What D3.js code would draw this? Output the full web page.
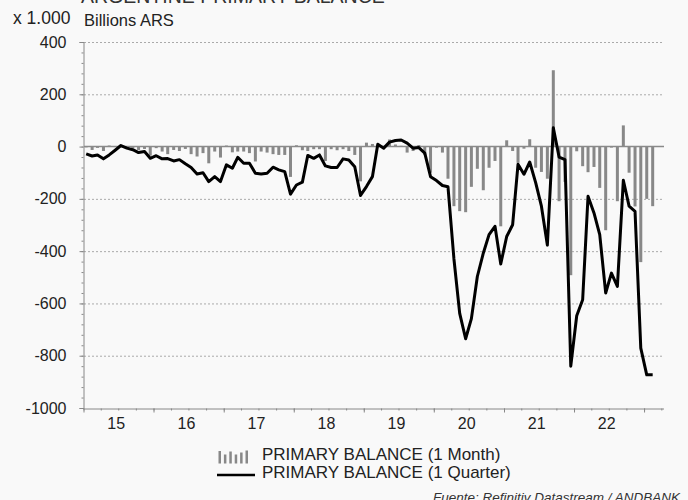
<html>
<head>
<style>
  body { margin: 0; background-color: #f9f9f9; font-family: "Liberation Sans", Arial, sans-serif; }
  svg { display: block; }
  .tick text { font-size: 16px; fill: #222; font-family: "Liberation Sans", Arial, sans-serif; }
</style>
<script src="https://d3js.org/d3.v7.min.js"></script>
</head>
<body>
<svg id="chart"></svg>
<script>
// monthly data, Jan 2015 .. Feb 2023 (billions ARS, x 1.000)
let startYear = 2015
let yearLabels = ["15", "16", "17", "18", "19", "20", "21", "22"]
let yTicks = [400, 200, 0, -200, -400, -600, -800, -1000]

let monthBalance = [
  -3, -13, -5, -17, 4, -2, -1, -9, -6, -13, -9, -35,
  -6, -19, -29, -13, -17, -9, -29, -38, -25, -64, -19, -42,
  4, -22, -19, -19, -25, -57, -19, -23, -29, -32, -32, -116,
  5, -14, -17, -10, -10, -55, -10, -14, -10, -17, -32, -133,
  15, 10, -3, 3, 27, 8, 3, -23, -17, 6, -32, -100,
  -4, -23, -123, -228, -247, -251, -154, -85, -167, -81, -55, -305,
  24, -17, -62, -8, 28, -81, -97, -123, 292, -209, -135, -492,
  -18, -75, -98, -78, -158, -320, -4, -209, 81, -100, -229, -442,
  -200, -228
]
let quarterBalance = [
  -28, -36, -32, -47, -32, -14, 4, -6, -12, -23, -19, -45,
  -35, -47, -46, -55, -50, -66, -80, -105, -100, -134, -115, -134,
  -70, -83, -41, -64, -64, -102, -105, -102, -79, -89, -96, -182,
  -147, -136, -34, -45, -32, -74, -80, -80, -47, -51, -77, -187,
  -153, -115, 9, -6, 17, 23, 25, 13, -6, -4, -25, -115,
  -130, -149, -154, -430, -638, -735, -658, -497, -408, -337, -305, -449,
  -344, -299, -68, -106, -59, -138, -228, -377, 72, -40, -50, -840,
  -647, -586, -190, -254, -337, -560, -484, -535, -129, -228, -248, -771,
  -873, -873
]

let months = monthBalance.map((d, i) => new Date(startYear, i, 15))
let rows = months.map((m, i) => ({date: m, month: monthBalance[i], quarter: quarterBalance[i]}))

let width = 688, height = 500
let svg = d3.select("#chart").attr("width", width).attr("height", height)
svg.append("rect").attr("width", width).attr("height", height).attr("fill", "#f9f9f9")

let x = d3.scaleTime()
  .domain([new Date(2015, 0, 1), new Date(2023, 3, 15)])
  .range([83.5, 664])
let y = d3.scaleLinear().domain([-1000, 400]).range([408, 42])

// title, cut off at the very top of the picture
svg.append("text").attr("x", 81).attr("y", 2.5)
  .style("font-size", "19.5px").style("fill", "#333")
  .text("ARGENTINE PRIMARY BALANCE")

svg.append("text").attr("x", 13).attr("y", 24)
  .style("font-size", "17.5px").style("fill", "#222").text("x 1.000")
svg.append("text").attr("x", 84).attr("y", 26)
  .style("font-size", "16.5px").style("fill", "#222").text("Billions ARS")

// grid
svg.append("g").selectAll("line").data(yTicks.filter(d => d != 0 && d != -1000))
  .enter().append("line")
  .attr("x1", 84).attr("x2", 664)
  .attr("y1", d => y(d) + 0.5).attr("y2", d => y(d) + 0.5)
  .attr("stroke", "#aaa").attr("stroke-dasharray", "2,2")

// bars
svg.append("g").selectAll("rect").data(rows).enter().append("rect")
  .attr("x", d => x(d.date) - 1.5)
  .attr("width", 3)
  .attr("y", d => Math.min(y(d.month), y(0)))
  .attr("height", d => Math.abs(y(d.month) - y(0)))
  .attr("fill", "#888")

// zero line
svg.append("line").attr("x1", 84).attr("x2", 664)
  .attr("y1", y(0)).attr("y2", y(0))
  .attr("stroke", "#8a8a8a").attr("stroke-width", 1.5)

// quarter line
let line = d3.line().x(d => x(d.date)).y(d => y(d.quarter))
svg.append("path").datum(rows)
  .attr("d", line)
  .attr("fill", "none")
  .attr("stroke", "#000")
  .attr("stroke-width", 3)
  .attr("stroke-linejoin", "round")

// y axis
let yAxis = svg.append("g").attr("transform", "translate(83.5,0)")
  .call(d3.axisLeft(y).tickValues(yTicks).tickSize(4).tickPadding(13).tickFormat(d => String(d)))
yAxis.selectAll(".tick line").attr("stroke", "#888")
yAxis.select(".domain").attr("stroke", "#888")
let yMinor = svg.append("g").attr("transform", "translate(83.5,0)")
  .call(d3.axisLeft(y).tickValues(d3.range(-1000, 401, 40)).tickSize(2).tickFormat(""))
yMinor.selectAll("line").attr("stroke", "#888")
yMinor.select(".domain").remove()

// x axis
let xAxis = svg.append("g").attr("transform", "translate(0,408.5)")
  .call(d3.axisBottom(x).ticks(d3.timeYear.every(1)).tickSize(4).tickFormat(""))
xAxis.selectAll("line").attr("stroke", "#888")
xAxis.select(".domain").attr("stroke", "#888").attr("d", "M83.5,0.5H664")
let xMinor = svg.append("g").attr("transform", "translate(0,408.5)")
  .call(d3.axisBottom(x).ticks(d3.timeMonth.every(3)).tickSize(2).tickFormat(""))
xMinor.selectAll("line").attr("stroke", "#888")
xMinor.select(".domain").remove()

svg.append("g").selectAll("text").data(yearLabels).enter().append("text")
  .attr("x", (d, i) => x(new Date(startYear + i, 6, 1)) - 2)
  .attr("y", 429)
  .attr("text-anchor", "middle")
  .style("font-size", "16px").style("fill", "#222")
  .text(d => d)

// legend
let legend = svg.append("g")
let iconBars = [12.5, 9, 12, 9, 11, 13]
legend.selectAll("rect").data(iconBars).enter().append("rect")
  .attr("x", (d, i) => 218.5 + i * 5.4).attr("width", 2.5)
  .attr("y", d => 463.5 - d).attr("height", d => d)
  .attr("fill", "#888")
legend.append("text").attr("x", 262).attr("y", 460)
  .style("font-size", "17px").style("fill", "#222").text("PRIMARY BALANCE (1 Month)")
legend.append("line").attr("x1", 217).attr("x2", 255).attr("y1", 475).attr("y2", 475)
  .attr("stroke", "#000").attr("stroke-width", 2.5)
legend.append("text").attr("x", 262).attr("y", 477.5)
  .style("font-size", "17px").style("fill", "#222").text("PRIMARY BALANCE (1 Quarter)")

svg.append("text").attr("x", 680).attr("y", 502).attr("text-anchor", "end")
  .style("font-size", "13.5px").style("font-style", "italic").style("fill", "#333")
  .text("Fuente: Refinitiv Datastream / ANDBANK")
</script>
</body>
</html>
